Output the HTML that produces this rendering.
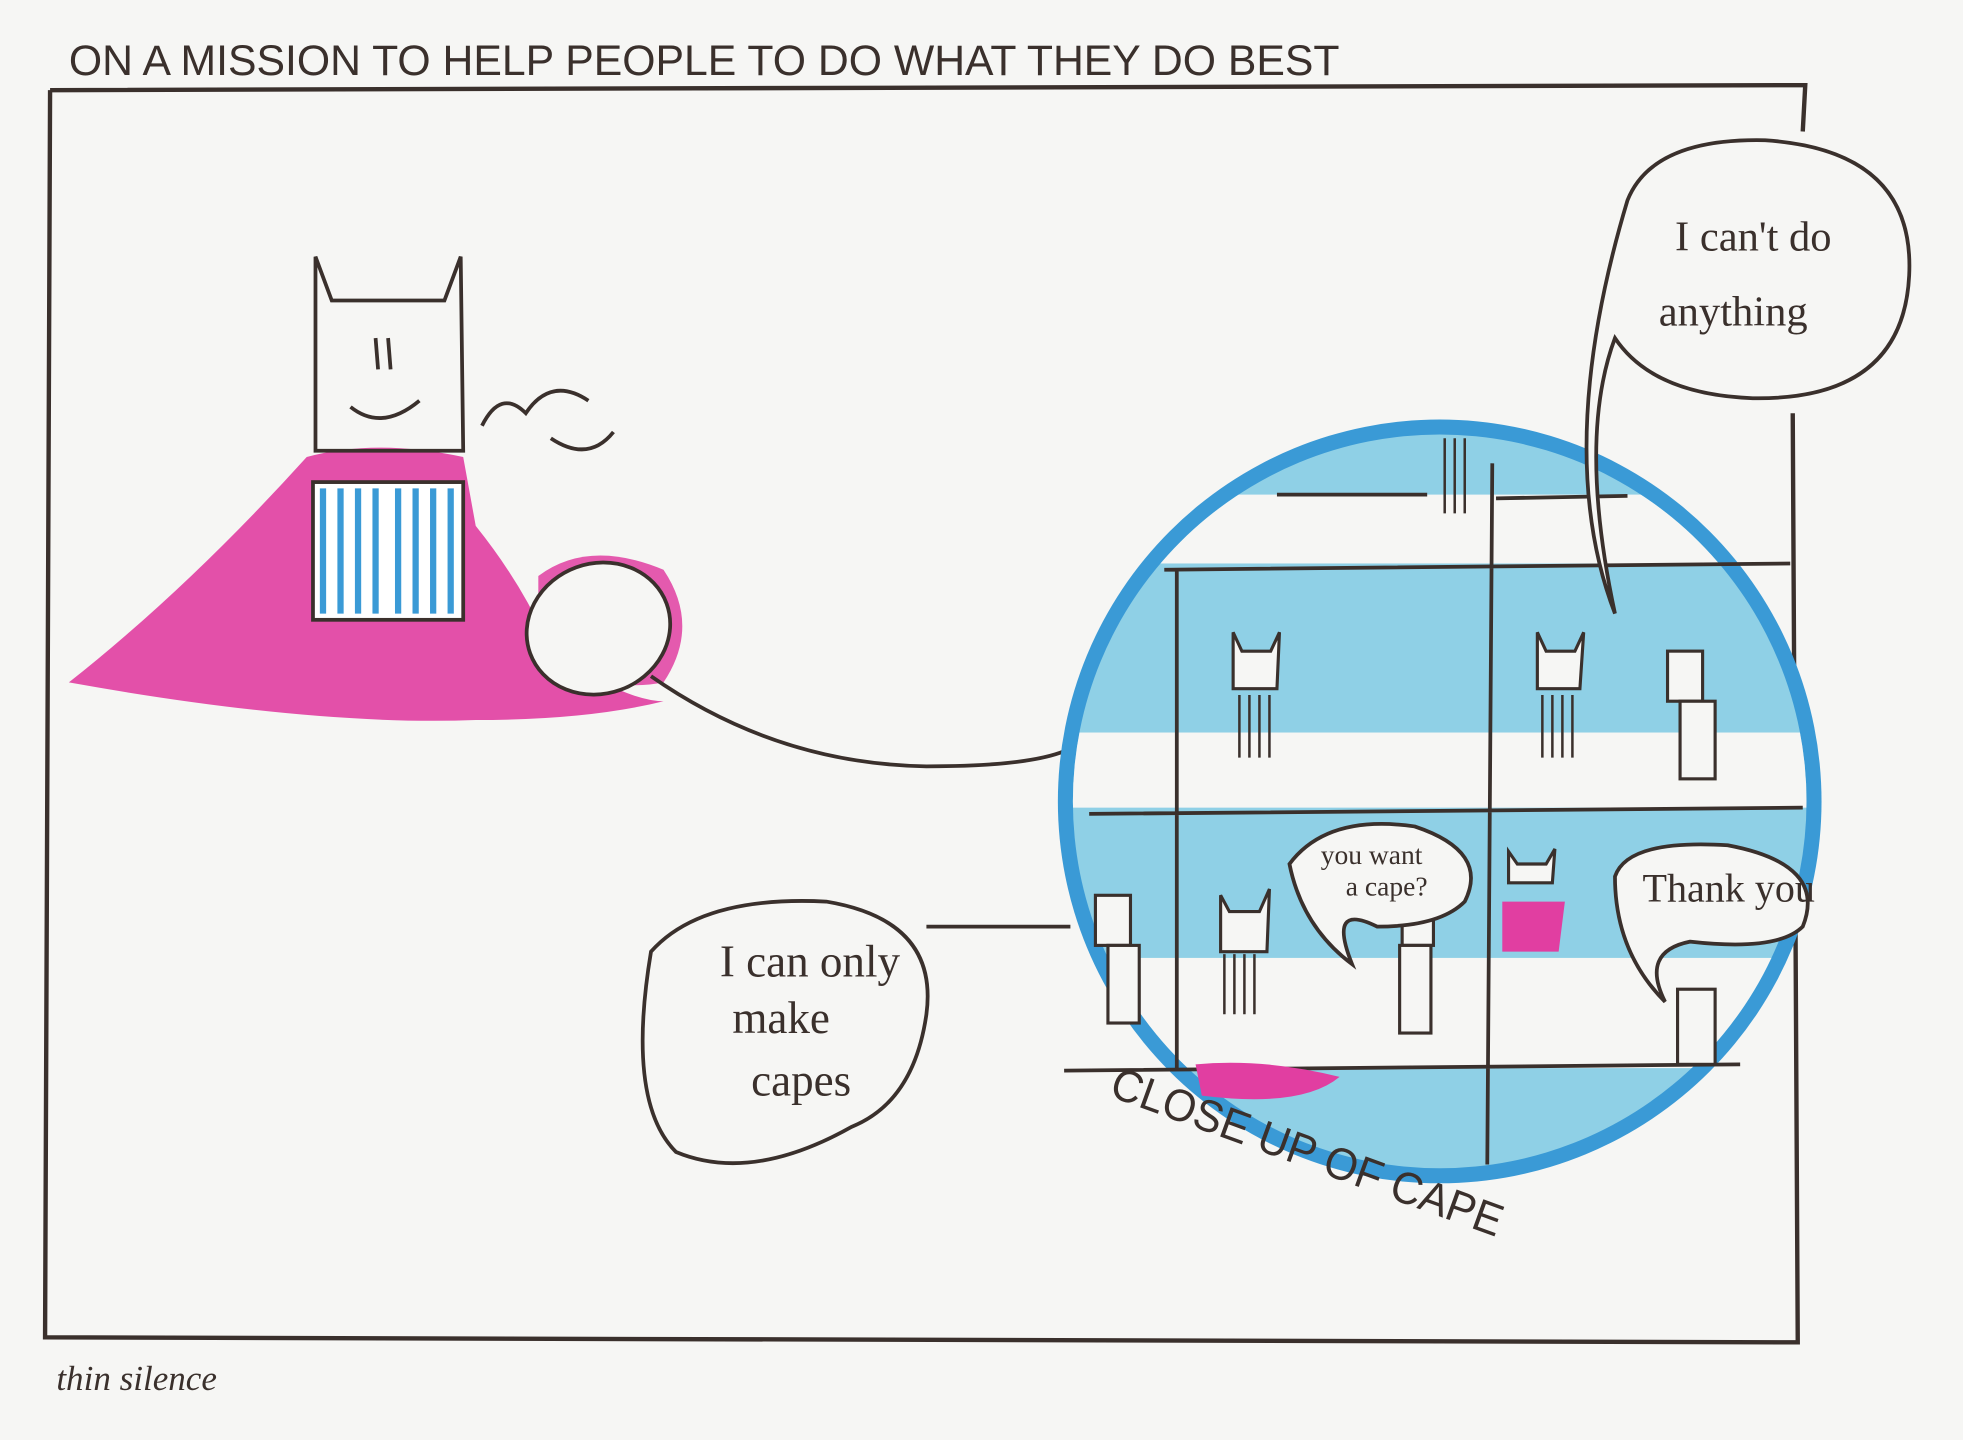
<!DOCTYPE html>
<html><head><style>
html,body{margin:0;padding:0;background:#f6f6f4;}
svg{display:block}
text{font-family:"Liberation Sans",sans-serif;fill:#3a302c}
</style></head><body>
<svg width="1963" height="1440" viewBox="0 0 1568 1150" preserveAspectRatio="none" xmlns="http://www.w3.org/2000/svg">
<defs><clipPath id="c"><circle cx="1150" cy="640" r="293"/></clipPath></defs>
<rect width="1568" height="1150" fill="#f6f6f4"/>
<text x="55" y="60" font-size="34" textLength="1015" lengthAdjust="spacingAndGlyphs" style="font-family:'Liberation Sans Narrow','Liberation Sans',sans-serif">ON A MISSION TO HELP PEOPLE TO DO WHAT THEY DO BEST</text>
<g fill="none" stroke="#3a302c" stroke-width="3.5">
<path d="M40 72 L1442 68 L1440 105 M40 72 L36 1068 L1436 1072 L1432 330"/>
</g>
<path d="M245 365 Q300 350 370 365 L380 420 Q420 470 440 520 Q500 560 530 560 Q470 575 380 575 Q250 580 55 545 Q150 470 245 365Z" fill="#e13ea1" opacity="0.9"/>
<path d="M430 460 Q470 430 530 455 Q560 500 530 545 Q480 555 430 520Z" fill="#e13ea1" opacity="0.85"/>
<ellipse cx="478" cy="502" rx="58" ry="52" fill="#f6f6f4" stroke="#3a302c" stroke-width="3" transform="rotate(-20 478 502)"/>
<g fill="none" stroke="#3a302c" stroke-width="3">
<path d="M252 205 L252 360 L370 360 L368 205 L355 240 L265 240 Z"/>
<path d="M280 325 Q305 345 335 320"/>
<path d="M300 270 L302 295 M310 270 L312 295"/>
<rect x="250" y="385" width="120" height="110" fill="#fff"/>
<path d="M385 340 Q400 310 420 330 Q440 300 470 320 M440 350 Q470 370 490 345"/>
</g>
<g stroke="#3a9ad6" stroke-width="5">
<path d="M258 390 V490 M272 390V490 M286 390V490 M300 390V490 M318 390V490 M332 390V490 M346 390V490 M360 390V490"/>
</g>
<path d="M520 540 Q620 610 740 612 Q820 612 850 600" fill="none" stroke="#3a302c" stroke-width="3"/>
<circle cx="1150" cy="640" r="305" fill="#3a9ad6"/>
<circle cx="1150" cy="640" r="293" fill="#8fd0e6"/>
<g fill="#f6f6f4" clip-path="url(#c)">
<rect x="840" y="585" width="620" height="60"/>
<rect x="840" y="765" width="620" height="88"/>
<rect x="840" y="395" width="590" height="55"/>
</g>
<g stroke="#3a302c" stroke-width="3" fill="none">
<path d="M940 455 L940 855 M1192 370 L1188 930 M850 855 L1390 850 M870 650 L1440 645 M930 455 L1430 450 M1020 395 L1140 395 M1195 398 L1300 396"/>
</g>
<g stroke="#3a302c" stroke-width="2.5" fill="#f6f6f4">
<path d="M985 505 L985 550 L1020 550 L1022 505 L1015 520 L992 520Z"/>
<path d="M1228 505 L1228 550 L1262 550 L1265 505 L1258 520 L1235 520Z"/>
<rect x="1332" y="520" width="28" height="40"/>
<rect x="1342" y="560" width="28" height="62"/>
<path d="M975 715 L975 760 L1012 760 L1014 710 L1006 728 L982 728Z"/>
<rect x="875" y="715" width="28" height="40"/>
<rect x="885" y="755" width="25" height="62"/>
<rect x="1120" y="720" width="25" height="35"/>
<rect x="1118" y="755" width="25" height="70"/>
<path d="M1205 680 L1205 705 L1240 705 L1242 678 L1235 690 L1212 690Z"/>
<rect x="1340" y="790" width="30" height="60"/>
</g>
<g stroke="#3a302c" stroke-width="2">
<path d="M990 555V605 M998 555V605 M1006 555V605 M1014 555V605 M1232 555V605 M1240 555V605 M1248 555V605 M1256 555V605 M978 762V810 M986 762V810 M994 762V810 M1002 762V810 M1154 350V410 M1162 350V410 M1170 350V410"/>
</g>
<g fill="#f6f6f4" stroke="#3a302c" stroke-width="3">
<path d="M1300 160 Q1320 110 1410 112 Q1530 120 1525 220 Q1520 320 1400 318 Q1320 315 1290 270 Q1260 350 1290 490 Q1240 360 1300 160Z"/>
<path d="M1030 690 Q1060 650 1130 660 Q1190 680 1170 720 Q1150 740 1100 740 Q1060 720 1080 770 Q1040 740 1030 690Z"/>
<path d="M1290 700 Q1300 670 1380 675 Q1460 690 1440 740 Q1420 760 1350 752 Q1310 760 1330 800 Q1290 760 1290 700Z"/>
<path d="M520 760 Q560 715 660 720 Q750 735 740 810 Q730 880 680 900 Q600 945 540 920 Q500 880 520 760Z"/>
</g>
<path d="M740 740 L855 740" stroke="#3a302c" stroke-width="3"/>
<path d="M1200 720 L1250 720 L1245 760 L1200 760Z" fill="#e13ea1"/>
<path d="M955 850 Q1010 845 1070 860 Q1040 885 960 875Z" fill="#e13ea1"/>
<text x="1338" y="200" font-size="34" style="font-family:'Liberation Serif',serif">I can't do</text>
<text x="1325" y="260" font-size="34" style="font-family:'Liberation Serif',serif">anything</text>
<text x="1055" y="690" font-size="22" style="font-family:'Liberation Serif',serif">you want</text>
<text x="1075" y="715" font-size="22" style="font-family:'Liberation Serif',serif">a cape?</text>
<text x="1312" y="720" font-size="32" style="font-family:'Liberation Serif',serif">Thank you</text>
<text x="575" y="780" font-size="36" style="font-family:'Liberation Serif',serif">I can only</text>
<text x="585" y="825" font-size="36" style="font-family:'Liberation Serif',serif">make</text>
<text x="600" y="875" font-size="36" style="font-family:'Liberation Serif',serif">capes</text>
<text x="885" y="875" font-size="36" textLength="330" lengthAdjust="spacingAndGlyphs" transform="rotate(20 885 875)">CLOSE UP OF CAPE</text>
<text x="45" y="1110" font-size="28" style="font-family:'Liberation Serif',serif;font-style:italic">thin silence</text>
</svg>
</body></html>
